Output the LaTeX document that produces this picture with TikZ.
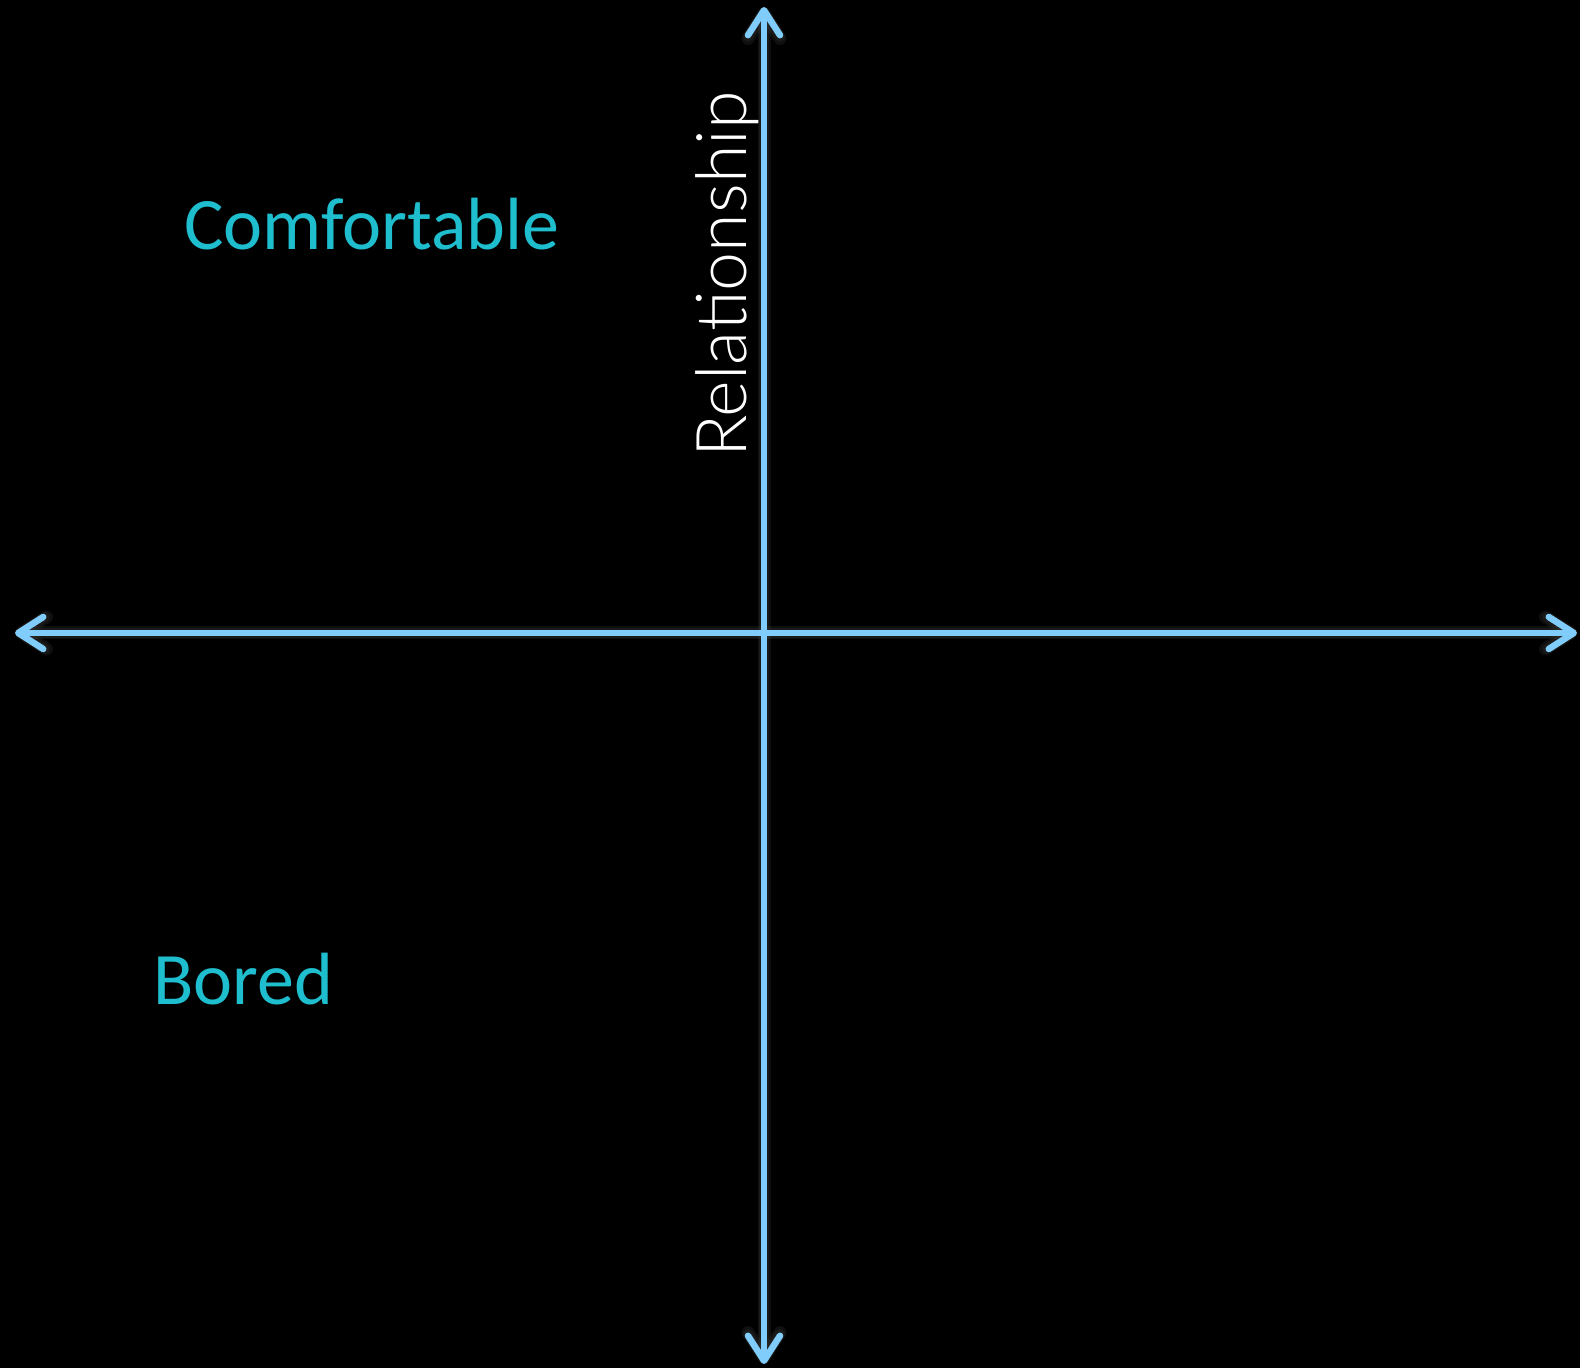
\documentclass[tikz,border=0pt]{standalone}
\usepackage{fontspec}
\setmainfont{Carlito}
\newfontfamily\relfont{Lato Light}
\usetikzlibrary{arrows.meta}
\definecolor{axisblue}{RGB}{128,204,250}
\definecolor{labelcyan}{RGB}{30,190,206}
\definecolor{glow}{RGB}{60,60,60}
\tikzset{
  barbs/.style={{Straight Barb[length=25pt,width=32pt,round]}-{Straight Barb[length=25pt,width=32pt,round]}},
  axisline/.style={draw=axisblue, line width=6.5pt, barbs},
  glowline/.style={draw=glow, line width=#1, opacity=0.25, barbs},
  quadlabel/.style={text=labelcyan, font=\fontsize{74}{82}\selectfont, inner sep=0pt, anchor=base west},
}
\begin{document}
\begin{tikzpicture}[x=1pt,y=1pt]
\useasboundingbox (0,0) rectangle (1580,1368);
\fill[black] (0,0) rectangle (1580,1368);
\coordinate (top) at (764,1361);
\coordinate (bottom) at (764,4);
\coordinate (left) at (15,735);
\coordinate (right) at (1577,735);
\foreach \w in {10pt,13pt} {
  \draw[glowline=\w] (left) -- (right);
  \draw[glowline=\w] (bottom) -- (top);
}
\draw[axisline] (left) -- (right);
\draw[axisline] (bottom) -- (top);
\node[quadlabel] (comf) at (184,1118) {Comfortable};
\node[quadlabel] (bored) at (153,363) {Bored};
\node[text=white, font=\relfont\fontsize{70}{78}\selectfont, inner sep=0pt, rotate=90, anchor=base west] (rel) at (746,910) {Relationship};
\end{tikzpicture}
\end{document}
